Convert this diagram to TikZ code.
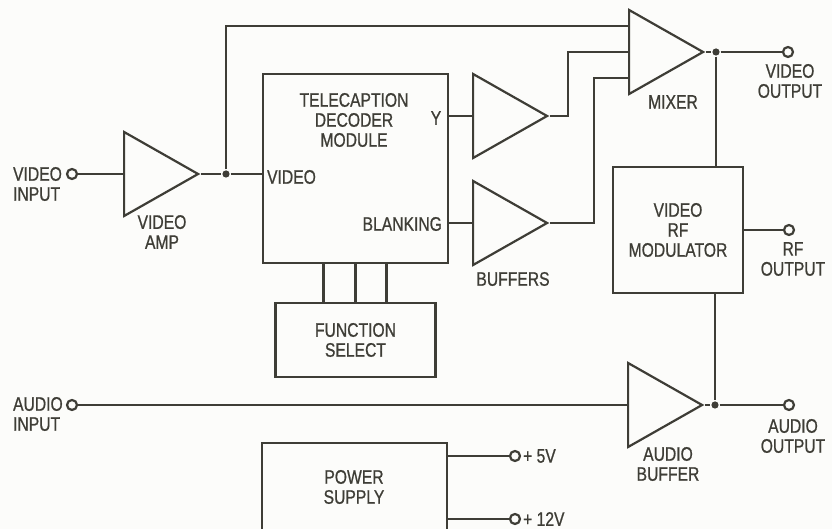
\documentclass[tikz,border=0pt]{standalone}
\usepackage{fontspec}
\setmainfont{Liberation Sans}[FakeStretch=0.8,FakeBold=0.8]
\usetikzlibrary{shapes.geometric,calc}
\definecolor{ink}{HTML}{3E3D36}
\definecolor{paper}{HTML}{FCFCFA}

\begin{document}
\begin{tikzpicture}[x=.5pt,y=-.5pt,line width=1.1pt,color=ink,
 font=\fontsize{9.8}{10}\selectfont,
 amp/.style={draw,isosceles triangle,isosceles triangle stretches,minimum width=42pt,minimum height=37pt,inner sep=0,anchor=west},
 blk/.style={draw,inner sep=0,align=center},
 term/.style={draw,circle,fill=paper,inner sep=0,minimum size=5pt},
 dot/.style={circle,fill,inner sep=0,minimum size=3.6pt},
 lab/.style={align=center,inner sep=0}]
 \fill[paper] (0,0) rectangle (832,529);
 \useasboundingbox (0,0) rectangle (832,529);
 % amplifiers
 \node[amp] (amp) at (123,174) {};
 \node[amp] (buf1) at (472,116) {};
 \node[amp] (buf2) at (472,223) {};
 \node[amp] (mix) at (628,52) {};
 \node[amp] (abuf) at (627,405) {};
 % blocks
 \node[blk,minimum width=92.5pt,minimum height=94.5pt] (dec) at (355.5,168.5) {};
 \node[blk,minimum width=80pt,minimum height=37pt] (fs) at (355.5,340) {FUNCTION\\SELECT};
 \node[blk,minimum width=65pt,minimum height=63pt] (rf) at (678,230) {VIDEO\\RF\\MODULATOR};
 \node[blk,minimum width=92.5pt,minimum height=60pt] (psu) at (354.5,503) {};
 % terminals and junctions
 \node[term] (vin) at (72,174) {};
 \node[term] (ain) at (72,405) {};
 \node[term] (vout) at (788,52) {};
 \node[term] (rfout) at (789,230) {};
 \node[term] (aout) at (789,405) {};
 \node[term] (p5) at (515,456) {};
 \node[term] (p12) at (515,519) {};
 \node[dot] (j1) at (226,174) {};
 \node[dot] (j2) at (716,52) {};
 \node[dot] (j3) at (715,405) {};
 % labels
 \node[lab,align=left,anchor=west] (vinlab) at (12,184) {VIDEO\\INPUT};
 \node[lab,align=left,anchor=west] (ainlab) at (12,414) {AUDIO\\INPUT};
 \node[lab] (amplab) at (162,232) {VIDEO\\AMP};
 \node[lab] (declab) at (354,120) {TELECAPTION\\DECODER\\MODULE};
 \node[lab] (ylab) at (436,118) {Y};
 \node[lab,anchor=west] (vidlab) at (266,177) {VIDEO};
 \node[lab,anchor=east] (blanklab) at (443,224) {BLANKING};
 \node[lab] (buflab) at (513,279) {BUFFERS};
 \node[lab] (mixlab) at (673,102) {MIXER};
 \node[lab] (voutlab) at (790,81) {VIDEO\\OUTPUT};
 \node[lab] (rflab) at (793,259) {RF\\OUTPUT};
 \node[lab] (aoutlab) at (793,436) {AUDIO\\OUTPUT};
 \node[lab] (abuflab) at (668,464) {AUDIO\\BUFFER};
 \node[lab] (psulab) at (354,487) {POWER\\SUPPLY};
 \node[lab,anchor=west] (p5lab) at (522,456) {+ 5V};
 \node[lab,anchor=west] (p12lab) at (522,519) {+ 12V};
 % wiring
 \draw (vin) -- (amp.west);
 \draw (amp.apex) -- (j1) -- (j1 -| dec.west);
 \draw (j1) |- ($(mix.west)+(0,-26)$);
 \draw (buf1.west -| dec.east) -- (buf1.west);
 \draw (buf1.apex) -- ++(18,0) |- (mix.west);
 \draw (buf2.west -| dec.east) -- (buf2.west);
 \draw (buf2.apex) -- ++(44,0) |- ($(mix.west)+(0,26)$);
 \draw (mix.apex) -- (j2) -- (vout);
 \draw (j2) -- (j2 |- rf.north);
 \draw (rf.east |- rfout) -- (rfout);
 \draw (j3 |- rf.south) -- (j3);
 \draw (ain) -- (abuf.west);
 \draw (abuf.apex) -- (j3) -- (aout);
 \foreach \dx in {-32,0,31}
  \draw ([xshift=\dx*.5pt]dec.south) -- ([xshift=\dx*.5pt]fs.north);
 \draw (psu.east |- p5) -- (p5);
 \draw (psu.east |- p12) -- (p12);
\end{tikzpicture}
\end{document}
